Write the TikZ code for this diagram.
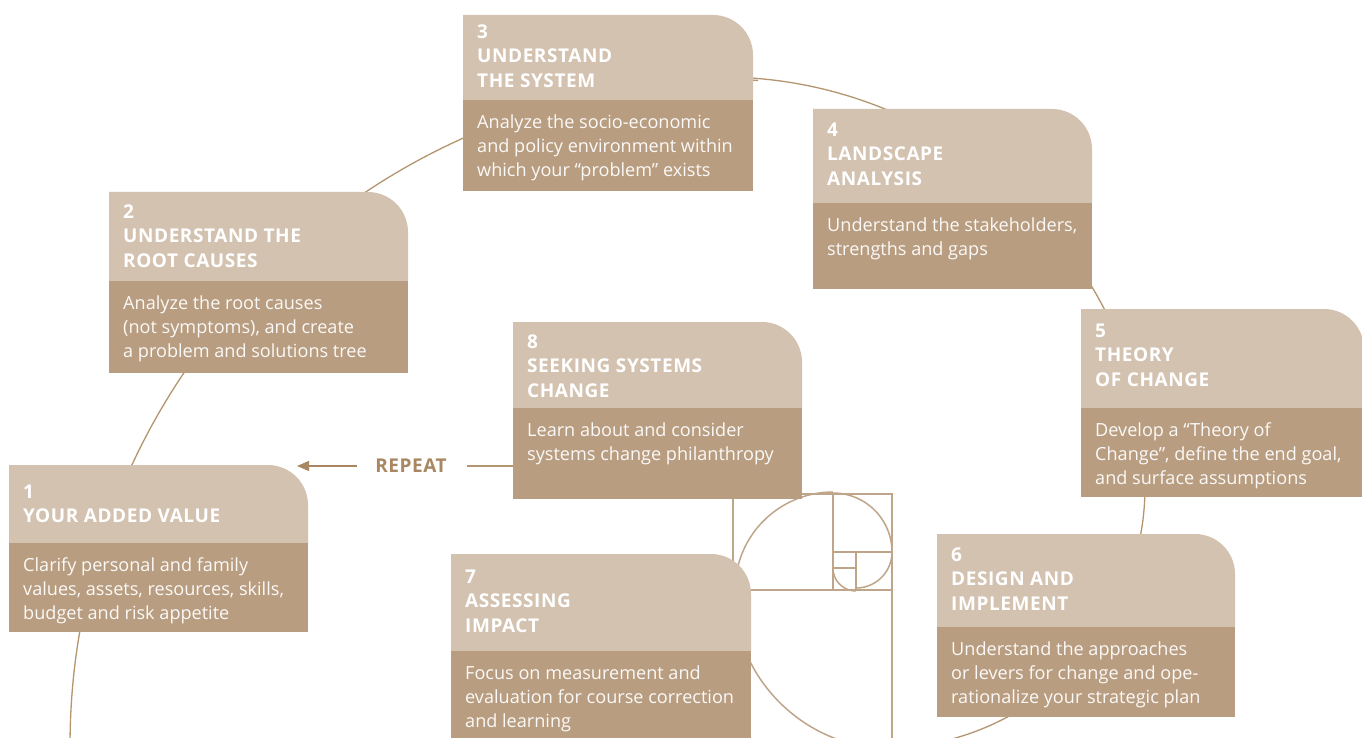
\documentclass[tikz,border=0pt]{standalone}
\usepackage{fontspec}
\setmainfont{Open Sans}
\usetikzlibrary{arrows.meta,fit}
\definecolor{hdr}{HTML}{D4C2B0}
\definecolor{bdy}{HTML}{B89D81}
\definecolor{ln}{HTML}{B3966F}
\definecolor{sq}{HTML}{BFA68B}
\definecolor{rep}{HTML}{A88762}
\tikzset{
  hdrtext/.style={anchor=north west, inner sep=0pt, align=left, text=white,
    font=\fontsize{19}{24.5}\selectfont\bfseries\addfontfeature{LetterSpace=3}},
  bodytext/.style={anchor=north west, inner sep=0pt, align=left, text=white!94!bdy,
    font=\fontsize{18.1}{24}\selectfont},
  spiral/.style={draw=ln, line width=1.3pt},
  fib/.style={draw=sq, line width=1.8pt},
  fibarc/.style={draw=sq, line width=1.5pt},
  frame/.style={inner sep=0pt, outer sep=0pt, draw=none},
  reptext/.style={inner sep=0pt, text=rep, font=\fontsize{19}{24}\selectfont\bfseries\addfontfeature{LetterSpace=3}},
}
% #1 name, #2 x1, #3 y1, #4 x2, #5 y header, #6 y bottom, #7 first header line centre, #8 header, #9 body
\newcommand\stagebox[9]{%
  \fill[hdr] (#2,#5) -- (#2,#3) -- ({#4-40},#3) .. controls ({#4-18},#3) and (#4,{#3+18}) .. (#4,{#3+40}) -- (#4,#5) -- cycle;
  \fill[bdy] (#2,#5) rectangle (#4,#6);
  \node[frame, fit={(#2,#3) (#4,#6)}] (#1) {};
  \node[hdrtext] (#1h) at ({#2+14},{#7-9}) {\rule{0pt}{16pt}#8};
  \node[bodytext] (#1t) at ({#2+14},{#5+21.5-9}) {\rule{0pt}{16pt}#9};
}
\begin{document}
\begin{tikzpicture}[x=1pt,y=-1pt]
\useasboundingbox (0,0) rectangle (1362,738);
\clip (0,0) rectangle (1362,738);
\fill[white] (0,0) rectangle (1362,738);
% large spiral (connector path behind the stages)
\draw[spiral] plot[domain=176:272, samples=120, smooth] ({735+665*cos(\x)},{745+665*sin(\x)});
\draw[spiral] plot[domain=268:350, samples=100, smooth] ({722+431*cos(\x)},{508+431*sin(\x)});
\draw[spiral] plot[domain=-20:95, samples=100, smooth] ({884+261*cos(\x)},{487+261*sin(\x)});
% golden rectangle figure
\draw[fib] (733,745) -- (733,494) -- (892,494) -- (892,745);
\draw[fib] (733,590) -- (892,590);
\draw[fib] (833,494) -- (833,590);
\draw[fib] (833,552) -- (892,552);
\draw[fib] (856,552) -- (856,590);
\draw[fib] (833,568) -- (856,568);
\draw[fibarc] plot[domain=90:180, samples=60, smooth] ({892+159*cos(\x)},{590+159*sin(\x)});
\draw[fibarc] plot[domain=180:270, samples=60, smooth] ({833+98*cos(\x)},{590+98*sin(\x)});
\draw[fibarc] plot[domain=270:360, samples=50, smooth] ({833+59*cos(\x)},{552+59*sin(\x)});
\draw[fibarc] plot[domain=0:90, samples=40, smooth] ({856+36*cos(\x)},{552+36*sin(\x)});
\draw[fibarc] plot[domain=90:180, samples=30, smooth] ({856+23*cos(\x)},{568+23*sin(\x)});
% stages
\stagebox{b1}{9}{465}{308}{543}{632}{491}{1\\YOUR ADDED VALUE}{Clarify personal and family\\values, assets, resources, skills,\\budget and risk appetite}
\stagebox{b2}{109}{192}{408}{281}{373}{211}{2\\UNDERSTAND THE\\ROOT CAUSES}{Analyze the root causes\\(not symptoms), and create\\a problem and solutions tree}
\stagebox{b3}{463}{15}{753}{100}{191}{31}{3\\UNDERSTAND\\THE SYSTEM}{Analyze the socio-economic\\and policy environment within\\which your “problem” exists}
\stagebox{b4}{813}{109}{1092}{203}{289}{129}{4\\LANDSCAPE\\ANALYSIS}{Understand the stakeholders,\\strengths and gaps}
\stagebox{b5}{1081}{309}{1364}{408}{497}{330}{5\\THEORY\\OF CHANGE}{Develop a “Theory of\\Change”, define the end goal,\\and surface assumptions}
\stagebox{b6}{937}{534}{1235}{627}{717}{554}{6\\DESIGN AND\\IMPLEMENT}{Understand the approaches\\or levers for change and ope-\\rationalize your strategic plan}
\stagebox{b7}{451}{554}{751}{651}{745}{576}{7\\ASSESSING\\IMPACT}{Focus on measurement and\\evaluation for course correction\\and learning}
\stagebox{b8}{513}{322}{802}{408}{499}{341}{8\\SEEKING SYSTEMS\\CHANGE}{Learn about and consider\\systems change philanthropy}
% repeat
\node[reptext] (repeat) at (411,466) {REPEAT};
\coordinate (reptip) at (297,466);
\draw[draw=ln, line width=1.3pt] (b8.west |- repeat.center) -- ([xshift=20pt]repeat.east);
\draw[draw=rep, line width=1.3pt, -{Triangle[length=12pt,width=10pt]}] ([xshift=-18pt]repeat.west) -- (reptip);
\end{tikzpicture}
\end{document}
